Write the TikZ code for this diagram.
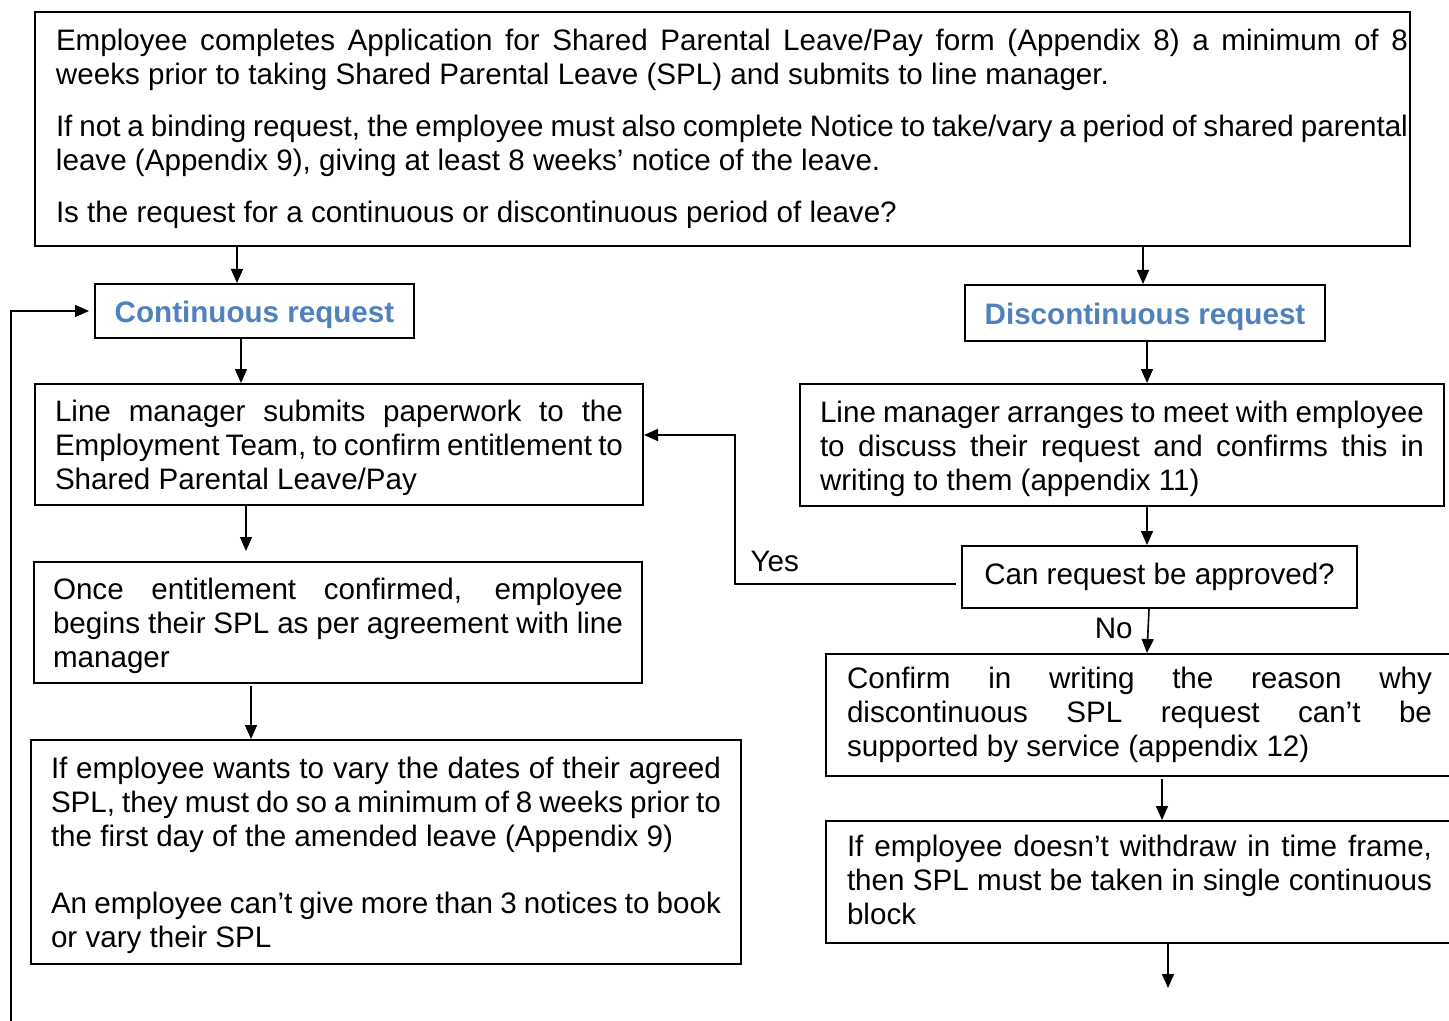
\documentclass[tikz,border=0pt]{standalone}
\usepackage{fontspec}
\setmainfont{Liberation Sans}
\usetikzlibrary{arrows.meta}
\definecolor{headblue}{RGB}{79,129,189}

\begin{document}
\begin{tikzpicture}[x=0.5pt,y=-0.5pt,
    font=\fontsize{14.8}{17}\selectfont]
    % `stepbox' boxes hold the justified paragraphs.
    % `lowered' pushes the first line of a box down a little.
    % `request' is used for the two blue headings.
    % `flow' is used for every arrow.
    \tikzstyle{stepbox} = [draw,line width=1pt,align=justify,inner sep=0pt]
    \tikzstyle{lowered} = [execute at begin node={\rule{0pt}{14.2pt}}]
    \tikzstyle{request} = [draw,line width=1pt,inner sep=0pt,
      text=headblue,font=\fontsize{14.8}{17}\selectfont\bfseries,
      execute at begin node={\rule{0pt}{14.8pt}}]
    \tikzstyle{flow} = [line width=0.8pt,-{Triangle[length=7pt,width=6pt]}]
    %
    \clip (0,0) rectangle (1449,1021);
    % Boxes.
    \node[draw,line width=1pt,inner sep=0pt,minimum width=687.5pt,minimum height=117pt]
      (apply) at (722.5,129) {\hspace*{9.5pt}\parbox{676pt}{Employee completes
      Application for Shared Parental Leave/Pay form (Appendix 8) a minimum
      of 8\linebreak weeks prior to taking Shared Parental Leave (SPL) and
      submits to line manager.\\[9pt]
      If not a binding request, the employee must also complete Notice to
      take/vary a period of shared parental\linebreak leave (Appendix 9),
      giving at least 8 weeks’ notice of the leave.\\[9pt]
      Is the request for a continuous or discontinuous period of leave?}};
    \node[request,minimum width=159.5pt,minimum height=27pt]
      (cont) at (254.5,311) {Continuous request};
    \node[request,minimum width=180pt,minimum height=28pt]
      (disc) at (1145,313) {Discontinuous request};
    \node[stepbox,lowered,minimum width=304pt,minimum height=60.5pt,text width=284pt]
      (submit) at (339,444.5) {Line manager submits paperwork to the\linebreak
      Employment Team, to confirm entitlement to\linebreak
      Shared Parental Leave/Pay};
    \node[stepbox,lowered,minimum width=304pt,minimum height=60.5pt,text width=285pt]
      (begin) at (338,622.5) {Once entitlement confirmed, employee\linebreak
      begins their SPL as per agreement with line\linebreak manager};
    \node[stepbox,lowered,minimum width=355pt,minimum height=112pt,text width=335pt]
      (vary) at (386,852) {If employee wants to vary the dates of their
      agreed\linebreak SPL, they must do so a minimum of 8 weeks prior
      to\linebreak the first day of the amended leave (Appendix 9)\\[16.5pt]
      An employee can’t give more than 3 notices to book\linebreak
      or vary their SPL};
    \node[stepbox,lowered,minimum width=322pt,minimum height=61pt,text width=302pt]
      (meet) at (1122,445) {Line manager arranges to meet with
      employee\linebreak to discuss their request and confirms this
      in\linebreak writing to them (appendix 11)};
    \node[draw,line width=1pt,minimum width=197.5pt,minimum height=31pt]
      (approve) at (1159.5,577) {Can request be approved?};
    \node[stepbox,minimum width=313.5pt,minimum height=61pt,text width=292.5pt]
      (refuse) at (1139.5,715) {Confirm in writing the reason
      why\linebreak discontinuous SPL request can’t be\linebreak
      supported by service (appendix 12)};
    \node[stepbox,minimum width=313.5pt,minimum height=61pt,text width=292.5pt]
      (single) at (1139.5,882) {If employee doesn’t withdraw in time
      frame,\linebreak then SPL must be taken in single
      continuous\linebreak block\rule[-2pt]{0pt}{0pt}};
    % Free ends.
    \coordinate (loopend) at (11,1030);
    \coordinate (outend) at (1168,988);
    % Arrows.
    \draw[flow] (apply.south -| 237,0) -- (cont.north -| 237,0);
    \draw[flow] (apply.south -| 1143,0) -- (disc.north -| 1143,0);
    \draw[flow] (cont.south -| 241,0) -- (submit.north -| 241,0);
    \draw[flow] (submit.south -| 246,0) -- (246,551);
    \draw[flow] (begin.south -| 251,0) ++(0,2) -- (vary.north -| 251,0);
    \draw[flow] (disc.south -| 1147,0) -- (meet.north -| 1147,0);
    \draw[flow] (meet.south -| 1147,0) -- (approve.north -| 1147,0);
    \draw[flow] (approve.south -| 1149,0) -- (refuse.north -| 1147,0)
      node[pos=0.45,left=4pt] (no) {No};
    \draw[flow] (refuse.south -| 1162,0) ++(0,2) -- (single.north -| 1162,0);
    \draw[flow] (single.south -| 1168,0) -- (outend);
    \draw[flow] ([xshift=-2.5pt]approve.west |- 0,584) -- (735,584)
      node[pos=0.82,above=2.5pt] (yes) {Yes} |- (submit.east |- 0,435);
    \draw[flow] (loopend) |- ([xshift=-2.5pt]cont.west);
\end{tikzpicture}
\end{document}
